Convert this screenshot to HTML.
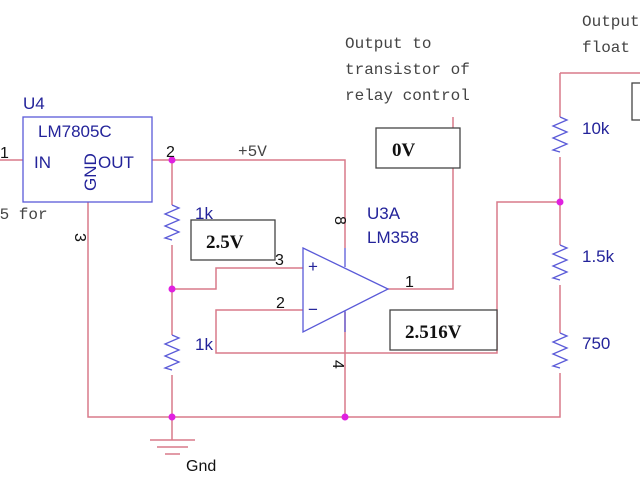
<!DOCTYPE html>
<html><head><style>
body{margin:0;background:#fff}
svg{display:block}
.m{font-family:"Liberation Mono",monospace;font-size:16px;fill:#444}
.b{font-family:"Liberation Sans",sans-serif;font-size:17px;fill:#23239a}
.k{font-family:"Liberation Sans",sans-serif;font-size:16px;fill:#111}
.v{font-family:"Liberation Serif",serif;font-size:19px;font-weight:bold;fill:#111}
</style></head><body>
<svg width="640" height="480" viewBox="0 0 640 480">
<g fill="none" stroke="#d97a8a" stroke-width="1.5">
<path d="M0 160H23M152 160H345V248"/>
<path d="M172 160V205M172 245V335M172 375V440"/>
<path d="M172 289H216V268H303"/>
<path d="M303 310H216V353H497V202H560"/>
<path d="M388 289H453V117"/>
<path d="M345 312V417M88 202V417H560V373"/>
<path d="M560 73H640M560 73V117M560 157V245M560 285V333"/>
</g>
<g fill="none" stroke="#5a5ad8" stroke-width="1.3">
<rect x="23" y="117" width="129" height="85"/>
<path d="M303 248L388 289L303 332Z"/>
<path d="M345 248V267M345 311V332"/>
<path d="M172 205l7 3-14 6 14 6-14 6 14 6-14 6 7 2"/>
<path d="M172 335l7 3-14 6 14 6-14 6 14 6-14 6 7 2"/>
<path d="M560 117l7 3-14 6 14 6-14 6 14 6-14 6 7 2"/>
<path d="M560 245l7 3-14 6 14 6-14 6 14 6-14 6 7 2"/>
<path d="M560 333l7 3-14 6 14 6-14 6 14 6-14 6 7 2"/>
</g>
<g stroke="#d97a8a" stroke-width="1.5"><path d="M150 440H195M157 447H188M165 454H180"/></g>
<g fill="#e020e0"><circle cx="172" cy="160" r="3.5"/><circle cx="172" cy="289" r="3.5"/><circle cx="172" cy="417" r="3.5"/><circle cx="345" cy="417" r="3.5"/><circle cx="560" cy="202" r="3.5"/></g>
<g fill="#fff" stroke="#444" stroke-width="1.3">
<rect x="191" y="220" width="84" height="40"/><rect x="376" y="128" width="84" height="40"/><rect x="390" y="310" width="107" height="40"/><rect x="632" y="83" width="10" height="37"/>
</g>
<text class="v" x="206" y="248">2.5V</text><text class="v" x="392" y="156">0V</text><text class="v" x="405" y="338">2.516V</text>
<text class="b" x="23" y="109">U4</text><text class="b" x="38" y="137">LM7805C</text>
<text class="b" x="34" y="168">IN</text><text class="b" x="98" y="168">OUT</text>
<text class="b" transform="translate(96 191) rotate(-90)">GND</text>
<text class="b" x="367" y="219">U3A</text><text class="b" x="367" y="243">LM358</text>
<text class="b" x="195" y="219">1k</text><text class="b" x="195" y="350">1k</text>
<text class="b" x="582" y="134">10k</text><text class="b" x="582" y="262">1.5k</text><text class="b" x="582" y="349">750</text>
<text class="b" x="308" y="272" font-size="13">+</text><text class="b" x="308" y="315" font-size="13">−</text>
<text class="k" x="0" y="158">1</text><text class="k" x="166" y="157">2</text>
<text class="k" transform="translate(75 233) rotate(90)">3</text>
<text class="k" transform="translate(335 216) rotate(90)">8</text>
<text class="k" transform="translate(333 360) rotate(90)">4</text>
<text class="k" x="275" y="265">3</text><text class="k" x="276" y="308">2</text><text class="k" x="405" y="287">1</text>
<text class="k" x="186" y="471" font-size="19">Gnd</text>
<text class="m" x="238" y="156">+5V</text>
<text class="m" x="-10" y="219">05 for</text>
<text class="m" x="345" y="48">Output to</text><text class="m" x="345" y="74">transistor of</text><text class="m" x="345" y="100">relay control</text>
<text class="m" x="582" y="26">Output</text><text class="m" x="582" y="52">float</text>
</svg>
</body></html>
